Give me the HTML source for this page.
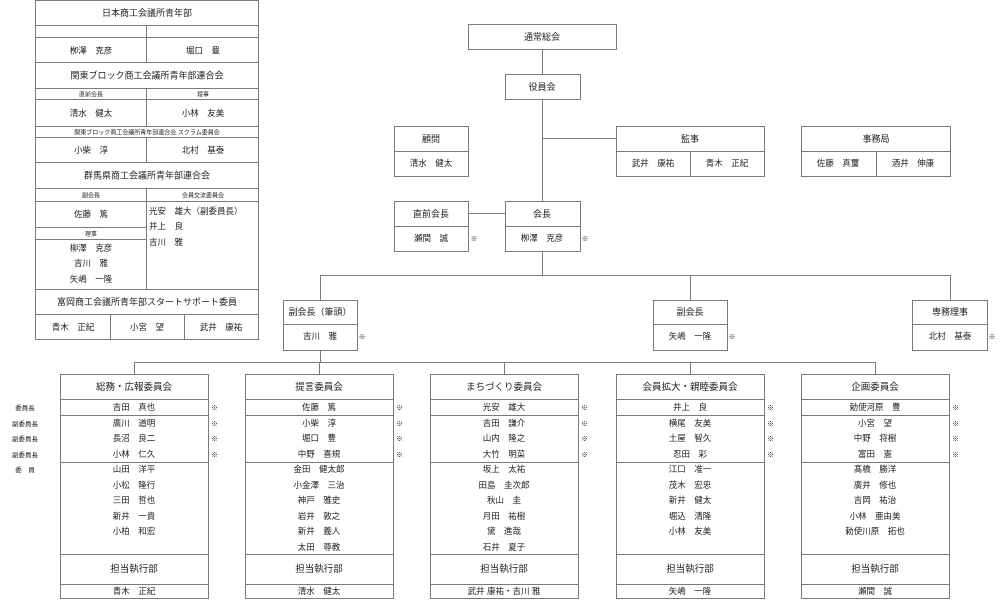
<!DOCTYPE html>
<html><head><meta charset="utf-8"><style>
body{margin:0;background:#fff;}
svg{display:block;font-family:"Liberation Sans","Noto Sans CJK JP",sans-serif;}
text{fill:#222;}
</style></head><body>
<svg width="1000" height="603" viewBox="0 0 1000 603" xmlns="http://www.w3.org/2000/svg">
<g stroke="#7a7a7a" stroke-width="1" fill="none" shape-rendering="crispEdges">
<!-- left panel -->
<rect x="35.5" y="0.5" width="223" height="339"/>
<line x1="35" y1="25.5" x2="259" y2="25.5"/>
<line x1="35" y1="37.5" x2="259" y2="37.5"/>
<line x1="35" y1="62.5" x2="259" y2="62.5"/>
<line x1="35" y1="88.5" x2="259" y2="88.5"/>
<line x1="35" y1="99.5" x2="259" y2="99.5"/>
<line x1="35" y1="126.5" x2="259" y2="126.5"/>
<line x1="35" y1="137.5" x2="259" y2="137.5"/>
<line x1="35" y1="162.5" x2="259" y2="162.5"/>
<line x1="35" y1="188.5" x2="259" y2="188.5"/>
<line x1="35" y1="201.5" x2="259" y2="201.5"/>
<line x1="35" y1="227.5" x2="147" y2="227.5"/>
<line x1="35" y1="239.5" x2="147" y2="239.5"/>
<line x1="35" y1="289.5" x2="259" y2="289.5"/>
<line x1="35" y1="314.5" x2="259" y2="314.5"/>
<line x1="146.5" y1="25" x2="146.5" y2="62"/>
<line x1="146.5" y1="88" x2="146.5" y2="126"/>
<line x1="146.5" y1="137" x2="146.5" y2="162"/>
<line x1="146.5" y1="188" x2="146.5" y2="289"/>
<line x1="110.5" y1="314" x2="110.5" y2="339"/>
<line x1="184.5" y1="314" x2="184.5" y2="339"/>
<!-- top -->
<rect x="468.5" y="24.5" width="148" height="25"/>
<rect x="505.5" y="74.5" width="75" height="25"/>
<line x1="542.5" y1="50" x2="542.5" y2="74"/>
<line x1="542.5" y1="100" x2="542.5" y2="201"/>
<rect x="394.5" y="126.5" width="74" height="50"/><line x1="394" y1="151.5" x2="469" y2="151.5"/>
<rect x="616.5" y="126.5" width="148" height="50"/><line x1="616" y1="151.5" x2="765" y2="151.5"/><line x1="690.5" y1="151" x2="690.5" y2="176"/>
<line x1="542" y1="138.5" x2="616" y2="138.5"/>
<rect x="801.5" y="126.5" width="149" height="50"/><line x1="801" y1="151.5" x2="951" y2="151.5"/><line x1="876.5" y1="151" x2="876.5" y2="176"/>
<rect x="394.5" y="201.5" width="74" height="50"/><line x1="394" y1="226.5" x2="469" y2="226.5"/>
<rect x="505.5" y="201.5" width="75" height="50"/><line x1="505" y1="226.5" x2="581" y2="226.5"/>
<line x1="469" y1="213.5" x2="505" y2="213.5"/>
<line x1="542.5" y1="252" x2="542.5" y2="275"/>
<line x1="320" y1="275.5" x2="951" y2="275.5"/>
<line x1="320.5" y1="275" x2="320.5" y2="300"/>
<line x1="690.5" y1="275" x2="690.5" y2="300"/>
<line x1="950.5" y1="275" x2="950.5" y2="300"/>
<rect x="283.5" y="300.5" width="74" height="50"/><line x1="283" y1="324.5" x2="358" y2="324.5"/>
<rect x="653.5" y="300.5" width="74" height="50"/><line x1="653" y1="324.5" x2="728" y2="324.5"/>
<rect x="912.5" y="300.5" width="75" height="50"/><line x1="912" y1="324.5" x2="988" y2="324.5"/>
<line x1="320.5" y1="351" x2="320.5" y2="362"/>
<line x1="134" y1="362.5" x2="876" y2="362.5"/>
<line x1="134.5" y1="362" x2="134.5" y2="375"/>
<line x1="319.5" y1="362" x2="319.5" y2="375"/>
<line x1="504.5" y1="362" x2="504.5" y2="375"/>
<line x1="690.5" y1="362" x2="690.5" y2="375"/>
<line x1="875.5" y1="362" x2="875.5" y2="375"/>
</g>
<g id="c" stroke="#7a7a7a" fill="none" shape-rendering="crispEdges">
<rect x="60.5" y="374.5" width="148" height="224"/>
<rect x="245.5" y="374.5" width="148" height="224"/>
<rect x="430.5" y="374.5" width="148" height="224"/>
<rect x="616.5" y="374.5" width="148" height="224"/>
<rect x="801.5" y="374.5" width="148" height="224"/>
<path d="M60 399.5H209M60 415.5H209M60 462.5H209M60 554.5H209M60 584.5H209
M245 399.5H394M245 415.5H394M245 462.5H394M245 554.5H394M245 584.5H394
M430 399.5H579M430 415.5H579M430 462.5H579M430 554.5H579M430 584.5H579
M616 399.5H765M616 415.5H765M616 462.5H765M616 554.5H765M616 584.5H765
M801 399.5H950M801 415.5H950M801 462.5H950M801 554.5H950M801 584.5H950"/>
</g>
<g font-size="8.5" text-anchor="middle">
<text x="147" y="16" font-size="9">日本商工会議所青年部</text>
<text x="91" y="53.5">栁澤　克彦</text><text x="203" y="53.5">堀口　豊</text>
<text x="147" y="78.5" font-size="9">関東ブロック商工会議所青年部連合会</text>
<text x="91" y="96.5" font-size="6">直前会長</text><text x="203" y="96.5" font-size="6">理事</text>
<text x="91" y="116">清水　健太</text><text x="203" y="116">小林　友美</text>
<text x="147" y="134.5" font-size="6">関東ブロック商工会議所青年部連合会 スクラム委員会</text>
<text x="91" y="153">小柴　淳</text><text x="203" y="153">北村　基泰</text>
<text x="147" y="178.5" font-size="9">群馬県商工会議所青年部連合会</text>
<text x="91" y="197.5" font-size="6">副会長</text><text x="203" y="197.5" font-size="6">会員交流委員会</text>
<text x="91" y="217">佐藤　篤</text>
<text x="91" y="236" font-size="6">理事</text>
<text x="91" y="251">柳澤　克彦</text><text x="91" y="266">吉川　雅</text><text x="91" y="282">矢嶋　一隆</text>
<text x="149" y="214" text-anchor="start">光安　雄大（副委員長）</text>
<text x="149" y="229" text-anchor="start">井上　良</text>
<text x="149" y="245" text-anchor="start">吉川　雅</text>
<text x="147" y="305" font-size="9">富岡商工会議所青年部スタートサポート委員</text>
<text x="73" y="330">青木　正紀</text><text x="147" y="330">小宮　望</text><text x="221" y="330">武井　康祐</text>

<text x="542" y="40" font-size="9">通常総会</text>
<text x="542" y="90" font-size="9">役員会</text>
<text x="431" y="142" font-size="9">顧問</text><text x="431" y="166">清水　健太</text>
<text x="690" y="142" font-size="9">監事</text><text x="653" y="166">武井　康祐</text><text x="727" y="166">青木　正紀</text>
<text x="876" y="142" font-size="9">事務局</text><text x="838" y="166">佐藤　真璽</text><text x="913" y="166">酒井　伸康</text>
<text x="431" y="217" font-size="9">直前会長</text><text x="431" y="241">瀬間　誠</text><text x="474" y="241" font-size="7">※</text>
<text x="542" y="217" font-size="9">会長</text><text x="542" y="241">栁澤　克彦</text><text x="585" y="241" font-size="7">※</text>
<text x="320" y="315" font-size="9">副会長（筆頭）</text><text x="320" y="339">吉川　雅</text><text x="362" y="339" font-size="7">※</text>
<text x="690" y="315" font-size="9">副会長</text><text x="690" y="339">矢嶋　一隆</text><text x="732" y="339" font-size="7">※</text>
<text x="950" y="315" font-size="9">専務理事</text><text x="950" y="339">北村　基泰</text><text x="992" y="339" font-size="7">※</text>

<g font-size="6.5">
<text x="25" y="410">委員長</text><text x="25" y="426">副委員長</text><text x="25" y="441">副委員長</text><text x="25" y="457">副委員長</text><text x="25" y="472">委　員</text>
</g>
</g>
<g font-size="8.5" text-anchor="middle">
<!-- committee 1 -->
<text x="134" y="390" font-size="9.5">総務・広報委員会</text>
<text x="134" y="410">吉田　真也</text><text x="134" y="426">廣川　道明</text><text x="134" y="441">長沼　良二</text><text x="134" y="457">小林　仁久</text>
<text x="134" y="472">山田　洋平</text><text x="134" y="488">小松　隆行</text><text x="134" y="503">三田　哲也</text><text x="134" y="519">新井　一貴</text><text x="134" y="534">小柏　和宏</text>
<text x="134" y="572" font-size="9.5">担当執行部</text><text x="134" y="594">青木　正紀</text>
<!-- 2 -->
<text x="319" y="390" font-size="9.5">提言委員会</text>
<text x="319" y="410">佐藤　篤</text><text x="319" y="426">小柴　淳</text><text x="319" y="441">堀口　豊</text><text x="319" y="457">中野　喜規</text>
<text x="319" y="472">金田　健太郎</text><text x="319" y="488">小金澤　三治</text><text x="319" y="503">神戸　雅史</text><text x="319" y="519">岩井　敦之</text><text x="319" y="534">新井　義人</text><text x="319" y="550">太田　尊教</text>
<text x="319" y="572" font-size="9.5">担当執行部</text><text x="319" y="594">清水　健太</text>
<!-- 3 -->
<text x="504" y="390" font-size="9.5">まちづくり委員会</text>
<text x="504" y="410">光安　雄大</text><text x="504" y="426">吉田　謙介</text><text x="504" y="441">山内　隆之</text><text x="504" y="457">大竹　明菜</text>
<text x="504" y="472">坂上　太祐</text><text x="504" y="488">田島　圭次郎</text><text x="504" y="503">秋山　圭</text><text x="504" y="519">月田　祐樹</text><text x="504" y="534">黛　進哉</text><text x="504" y="550">石井　夏子</text>
<text x="504" y="572" font-size="9.5">担当執行部</text><text x="504" y="594">武井 康祐・吉川 雅</text>
<!-- 4 -->
<text x="690" y="390" font-size="9.5">会員拡大・親睦委員会</text>
<text x="690" y="410">井上　良</text><text x="690" y="426">横尾　友美</text><text x="690" y="441">土屋　智久</text><text x="690" y="457">忍田　彩</text>
<text x="690" y="472">江口　准一</text><text x="690" y="488">茂木　宏忠</text><text x="690" y="503">新井　健太</text><text x="690" y="519">堀込　清隆</text><text x="690" y="534">小林　友美</text>
<text x="690" y="572" font-size="9.5">担当執行部</text><text x="690" y="594">矢嶋　一隆</text>
<!-- 5 -->
<text x="875" y="390" font-size="9.5">企画委員会</text>
<text x="875" y="410">勅使河原　豊</text><text x="875" y="426">小宮　望</text><text x="875" y="441">中野　将樹</text><text x="875" y="457">富田　憲</text>
<text x="875" y="472">髙橋　勝洋</text><text x="875" y="488">廣井　修也</text><text x="875" y="503">吉岡　祐治</text><text x="875" y="519">小林　亜由美</text><text x="875" y="534">勅使川原　拓也</text>
<text x="875" y="572" font-size="9.5">担当執行部</text><text x="875" y="594">瀬間　誠</text>
</g>
<g font-size="7" fill="#444">
<text x="211" y="410">※</text><text x="211" y="426">※</text><text x="211" y="441">※</text><text x="211" y="457">※</text>
<text x="396" y="410">※</text><text x="396" y="426">※</text><text x="396" y="441">※</text><text x="396" y="457">※</text>
<text x="581" y="410">※</text><text x="581" y="426">※</text><text x="581" y="441">※</text><text x="581" y="457">※</text>
<text x="767" y="410">※</text><text x="767" y="426">※</text><text x="767" y="441">※</text><text x="767" y="457">※</text>
<text x="952" y="410">※</text><text x="952" y="426">※</text><text x="952" y="441">※</text><text x="952" y="457">※</text>
</g>
</svg>
</body></html>
